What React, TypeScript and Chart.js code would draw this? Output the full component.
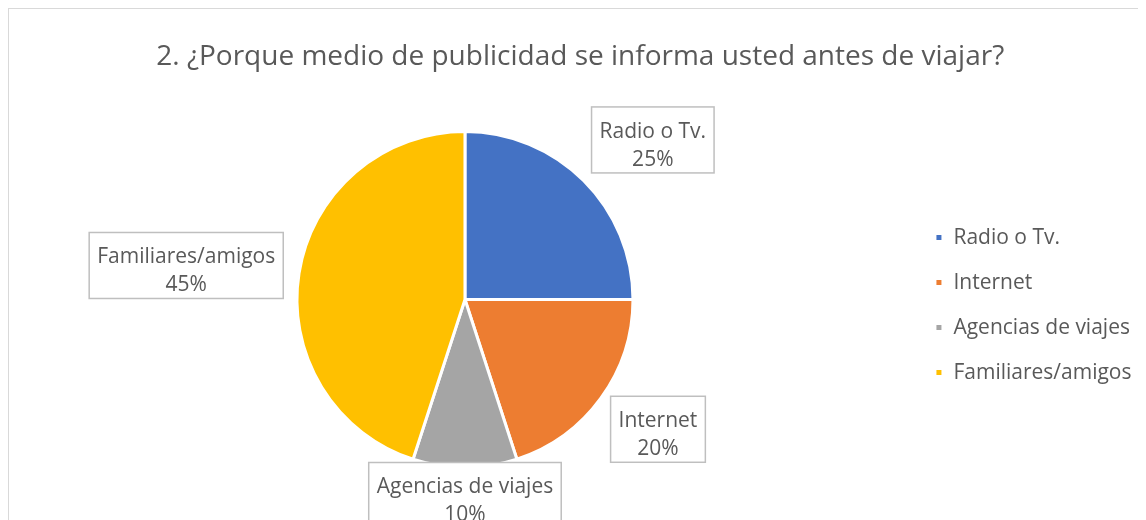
import React, { useEffect, useRef } from "react";
import { Chart, registerables } from "chart.js";

Chart.register(...registerables);

const TITLE = "2. ¿Porque medio de publicidad se informa usted antes de viajar?";
const categories = ["Radio o Tv.", "Internet", "Agencias de viajes", "Familiares/amigos"];
const values = [25, 20, 10, 45];
const sliceColors = ["#4472C4", "#ED7D31", "#A5A5A5", "#FFC000"];

const FONT = "'Open Sans', sans-serif";
const TEXT_COLOR = "#595959";
const CANVAS_W = 1137;
const CANVAS_H = 511;

const labelBoxPlugin = {
  id: "labelBoxes",
  afterDatasetsDraw(chart: any, _args: any, opts: any) {
    const ctx = chart.ctx as CanvasRenderingContext2D;
    const meta = chart.getDatasetMeta(0);
    const data = chart.data.datasets[0].data as number[];
    const total = data.reduce((a, b) => a + b, 0);
    ctx.save();
    ctx.font = `${opts.fontSize}px ${FONT}`;
    meta.data.forEach((arc: any, i: number) => {
      const { x, y, startAngle, endAngle, outerRadius } = arc.getProps(
        ["x", "y", "startAngle", "endAngle", "outerRadius"],
        true
      );
      const mid = (startAngle + endAngle) / 2;
      const dx = Math.cos(mid);
      const dy = Math.sin(mid);
      const lines = [String(chart.data.labels[i]), Math.round((data[i] / total) * 100) + "%"];
      const tw = Math.max(...lines.map((l) => ctx.measureText(l).width));
      const w = tw + 2 * opts.padX;
      const h = lines.length * opts.lineHeight + 2 * opts.padY;
      // anchor point just outside the arc, on the slice's middle direction
      const r = outerRadius + opts.gaps[i];
      const ax = x + dx * r;
      const ay = y + dy * r;
      // push the box outward so that the anchor sits on its nearest edge/corner
      const m = Math.max(Math.abs(dx), Math.abs(dy));
      const cx = ax + (dx / m) * (w / 2);
      const cy = ay + (dy / m) * (h / 2);
      ctx.fillStyle = "#ffffff";
      ctx.fillRect(cx - w / 2, cy - h / 2, w, h);
      ctx.strokeStyle = opts.borderColor;
      ctx.lineWidth = opts.borderWidth;
      ctx.strokeRect(cx - w / 2, cy - h / 2, w, h);
      ctx.fillStyle = TEXT_COLOR;
      ctx.textAlign = "center";
      ctx.textBaseline = "middle";
      const n = lines.length;
      lines.forEach((l, k) => {
        ctx.fillText(l, cx, cy + opts.textOffset + opts.lineHeight * (k - (n - 1) / 2));
      });
    });
    ctx.restore();
  },
};

export default function App() {
  const canvasRef = useRef<HTMLCanvasElement | null>(null);

  useEffect(() => {
    document.body.style.overflow = "hidden";
    const canvas = canvasRef.current;
    if (!canvas) return;
    const chart = new Chart(canvas, {
      type: "pie",
      data: {
        labels: categories,
        datasets: [
          {
            data: values,
            backgroundColor: sliceColors,
            borderColor: "#ffffff",
            borderWidth: 3,
          },
        ],
      },
      plugins: [labelBoxPlugin],
      options: {
        responsive: false,
        maintainAspectRatio: false,
        animation: false,
        layout: { padding: { left: 10, right: 4.5, top: 0, bottom: 51 } },
        plugins: {
          tooltip: { enabled: false },
          title: {
            display: true,
            text: TITLE,
            color: TEXT_COLOR,
            font: { family: FONT, size: 28, weight: "normal" },
            padding: { top: 31.2, bottom: 56.2 },
          },
          legend: {
            display: true,
            position: "right",
            align: "center",
            fullSize: false,
            title: { display: true, text: " ", font: { size: 1 }, padding: 5 },
            labels: {
              color: TEXT_COLOR,
              font: { family: FONT, size: 21 },
              boxWidth: 8,
              boxHeight: 8,
              padding: 24,
            },
          },
          labelBoxes: {
            fontSize: 21,
            padX: 8,
            padY: 5,
            lineHeight: 28,
            textOffset: 6,
            borderColor: "#BFBFBF",
            borderWidth: 1.5,
            gaps: [11, 12, -5, 16],
          },
        } as any,
      },
    });
    return () => chart.destroy();
  }, []);

  return (
    <div
      style={{
        width: CANVAS_W,
        height: CANVAS_H,
        borderTop: "1px solid #D9D9D9",
        borderLeft: "1px solid #D9D9D9",
        background: "#ffffff",
      }}
    >
      <canvas ref={canvasRef} width={CANVAS_W} height={CANVAS_H} style={{ display: "block" }} />
    </div>
  );
}
